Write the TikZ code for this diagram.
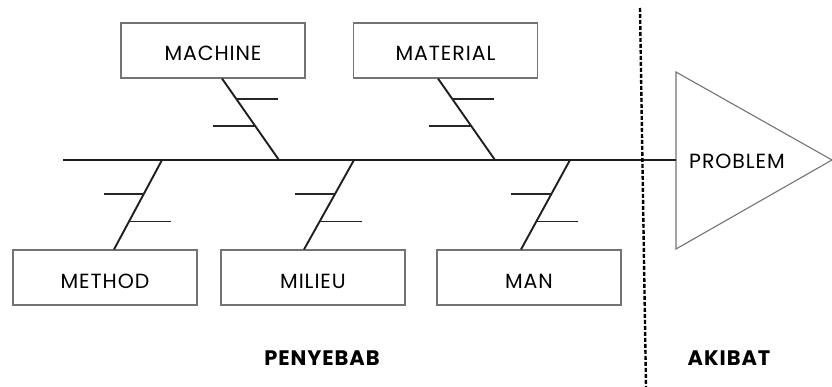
\documentclass[tikz,border=0pt]{standalone}
\usepackage{fontspec}
\setmainfont{Poppins}
\newfontfamily\labelfont[LetterSpace=4.5]{Poppins}
\usetikzlibrary{calc}
\begin{document}
\begin{tikzpicture}[x=1pt,y=-1pt,
  causebox/.style={draw=black!55,line width=1.1pt,minimum width=184pt,minimum height=55pt,inner sep=0pt,text height=21pt,text depth=0pt,font=\labelfont\fontsize{20.5}{22}\selectfont},
  bone/.style={line width=1.9pt,black!88},
  rib/.style={line width=1.4pt,black!85},
  spine/.style={line width=2.6pt,black!88},
  title/.style={font=\labelfont\bfseries\fontsize{21}{23}\selectfont}]
\useasboundingbox (0,0) rectangle (832,387);
% boxes
\node[causebox] (machine) at (213,50.5) {MACHINE};
\node[causebox] (material) at (445.5,50.5) {MATERIAL};
\node[causebox] (method) at (105,277.5) {METHOD};
\node[causebox] (milieu) at (313,277.5) {MILIEU};
\node[causebox] (man) at (529,277.5) {MAN};
% effect triangle
\coordinate (tT) at (676,72);
\coordinate (tB) at (676,249);
\coordinate (tA) at (832,160);
\coordinate (tL) at (676,160);
\draw[black!55,line width=1.1pt,line join=miter] (tT) -- (tA) -- (tB) -- cycle;
\node[font=\labelfont\fontsize{20.5}{22}\selectfont,text height=16pt,text depth=0pt] (problem) at (737,161) {PROBLEM};
% spine
\coordinate (tail) at (63,160);
\draw[spine] (tail) -- (tL);
% bone end points on spine
\coordinate (sMachine) at (279,160);
\coordinate (sMaterial) at (495,160);
\coordinate (sMethod) at (162,160);
\coordinate (sMilieu) at (354,160);
\coordinate (sMan) at (570,160);
% upper bones
\draw[bone] (machine.south -| 222,0) coordinate (bMachine) -- (sMachine);
\draw[bone] (material.south -| 438,0) coordinate (bMaterial) -- (sMaterial);
% lower bones
\draw[bone] (method.north -| 114,0) coordinate (bMethod) -- (sMethod);
\draw[bone] (milieu.north -| 304,0) coordinate (bMilieu) -- (sMilieu);
\draw[bone] (man.north -| 521,0) coordinate (bMan) -- (sMan);
% ribs upper
\draw[rib] ($(bMachine)!0.252!(sMachine)$) -- ++(42,0);
\draw[rib] ($(bMachine)!0.585!(sMachine)$) -- ++(-42,0);
\draw[rib] ($(bMaterial)!0.252!(sMaterial)$) -- ++(42,0);
\draw[rib] ($(bMaterial)!0.585!(sMaterial)$) -- ++(-42,0);
% ribs lower
\draw[rib] ($(sMethod)!0.378!(bMethod)$) -- ++(-40,0);
\draw[rib] ($(sMethod)!0.689!(bMethod)$) -- ++(42,0);
\draw[rib] ($(sMilieu)!0.378!(bMilieu)$) -- ++(-40,0);
\draw[rib] ($(sMilieu)!0.689!(bMilieu)$) -- ++(42,0);
\draw[rib] ($(sMan)!0.378!(bMan)$) -- ++(-40,0);
\draw[rib] ($(sMan)!0.689!(bMan)$) -- ++(42,0);
% divider
\coordinate (dTop) at (640,8);
\coordinate (dBot) at (646,387);
\draw[line width=2.4pt,dash pattern=on 4pt off 2pt] (dTop) -- (dBot);
% titles
\node[title] (penyebab) at (322,358) {PENYEBAB};
\node[title] (akibat) at (729,358) {AKIBAT};
\end{tikzpicture}
\end{document}
